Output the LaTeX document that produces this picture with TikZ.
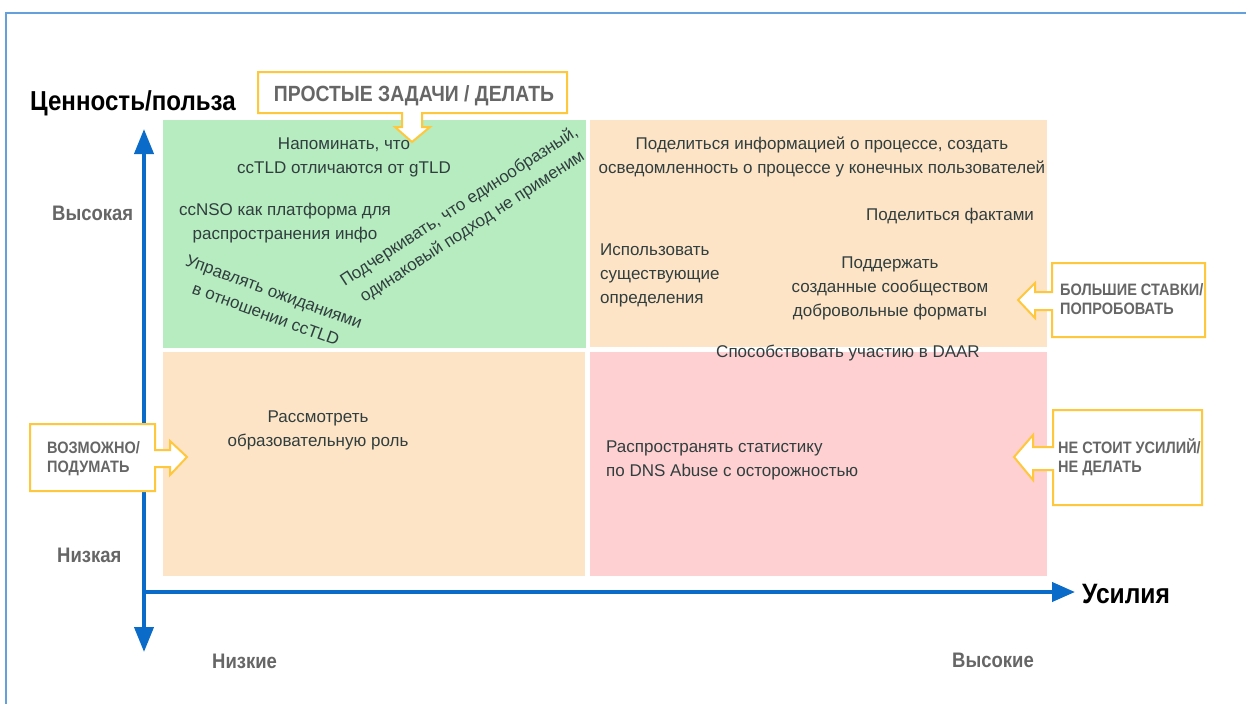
\documentclass[tikz,border=0pt]{standalone}
\usepackage{fontspec}
\setmainfont{Liberation Sans}
\newfontfamily\narrowf[FakeStretch=0.88]{Liberation Sans}
\usetikzlibrary{arrows.meta}
\definecolor{qgreen}{RGB}{183,235,192}
\definecolor{qorange}{RGB}{254,228,198}
\definecolor{qpink}{RGB}{255,208,210}
\definecolor{axisblue}{RGB}{10,108,200}
\definecolor{framblue}{RGB}{100,160,220}
\definecolor{callout}{RGB}{255,200,60}
\definecolor{graylab}{RGB}{102,102,102}
\definecolor{qtext}{RGB}{48,62,62}
\begin{document}
\begin{tikzpicture}[x=1pt,y=-1pt,
  qt/.style={inner sep=0pt, text=qtext, align=center, font=\fontsize{17}{24}\selectfont},
  glab/.style={inner sep=0pt, text=graylab, font=\narrowf\bfseries\fontsize{21}{24}\selectfont},
  ctext/.style={inner sep=0pt, text=graylab, align=left, font=\narrowf\bfseries\fontsize{16.5}{19}\selectfont},
  bigt/.style={inner sep=0pt, text=black, font=\narrowf\bfseries\fontsize{28}{30}\selectfont},
  axisline/.style={draw=axisblue, line width=4pt},
  calloutshape/.style={draw=callout, fill=white, line width=2pt, line join=miter}
]
\useasboundingbox (0,0) rectangle (1246,704);
\fill[white] (0,0) rectangle (1246,704);
% frame
\draw[framblue, line width=2pt] (6,704) -- (6,13) -- (1246,13);

% quadrants
\fill[qgreen] (163,120) rectangle (586,348);
\fill[qorange] (590,120) rectangle (1047,347);
\fill[qorange] (163,352) rectangle (585,576);
\fill[qpink] (590,352) rectangle (1047,576);

% axes
\coordinate (ytop) at (144,129);
\coordinate (ybot) at (144,652);
\coordinate (origin) at (142,592);
\coordinate (xend) at (1075,592);
\draw[axisline, {Triangle[length=25pt,width=19pt]}-{Triangle[length=25pt,width=19pt]}] (ybot) -- (ytop);
\draw[axisline, -{Triangle[length=23pt,width=19pt]}] (origin) -- (xend);

% axis titles
\node[bigt, anchor=base west, font=\narrowf\bfseries\fontsize{27.4}{30}\selectfont] (ytitle) at (30,110) {Ценность/польза};
\node[bigt, anchor=base west] (xtitle) at (1082,603) {Усилия};
\node[glab, anchor=base west] (yhigh) at (52,220) {Высокая};
\node[glab, anchor=base west] (ylow) at (57,562) {Низкая};
\node[glab, anchor=base west] (xlow) at (212,668) {Низкие};
\node[glab, anchor=base west] (xhigh) at (952,667) {Высокие};

% callouts
\draw[calloutshape] (258,72) -- (567,72) -- (567,113) -- (422,113) -- (422,127) -- (430,127)
  -- (412,142) -- (395,127) -- (402,127) -- (402,113) -- (258,113) -- cycle;
\node[ctext, font=\narrowf\bfseries\fontsize{22}{24}\selectfont, anchor=base] (c1) at (414,101) {ПРОСТЫЕ ЗАДАЧИ / ДЕЛАТЬ};

\draw[calloutshape] (1052,263) -- (1205,263) -- (1205,337) -- (1052,337) -- (1052,310) -- (1035,310)
  -- (1035,318) -- (1018,300) -- (1035,283) -- (1035,292) -- (1052,292) -- cycle;
\node[ctext, anchor=base west] (c2) at (1060,314) {БОЛЬШИЕ СТАВКИ/\\ПОПРОБОВАТЬ};

\draw[calloutshape] (1053,410) -- (1202,410) -- (1202,505) -- (1053,505) -- (1053,470) -- (1033,470)
  -- (1033,480) -- (1014,457) -- (1033,435) -- (1033,447) -- (1053,447) -- cycle;
\node[ctext, anchor=base west] (c3) at (1058,472) {НЕ СТОИТ УСИЛИЙ/\\НЕ ДЕЛАТЬ};

\draw[calloutshape] (30,424) -- (155,424) -- (155,450) -- (170,450) -- (170,441) -- (187,457)
  -- (170,475) -- (170,467) -- (155,467) -- (155,491) -- (30,491) -- cycle;
\node[ctext, anchor=base west] (c4) at (47,472) {ВОЗМОЖНО/\\ПОДУМАТЬ};

% quadrant texts
\node[qt] (t1) at (344,157) {Напоминать, что\\ccTLD отличаются от gTLD};
\node[qt] (t2) at (285,223) {ccNSO как платформа для\\распространения инфо};
\node[qt, rotate=-20] (t3) at (270,303) {Управлять ожиданиями\\в отношении ccTLD};
\node[qt, rotate=33] (t4) at (466,217) {Подчеркивать, что единообразный,\\одинаковый подход не применим};

\node[qt] (t5) at (822,157) {Поделиться информацией о процессе, создать\\осведомленность о процессе у конечных пользователей};
\node[qt, anchor=base] (t6) at (950,220) {Поделиться фактами};
\node[qt, align=left, anchor=west] (t7) at (600,275) {Использовать\\существующие\\определения};
\node[qt] (t8) at (890,288) {Поддержать\\созданные сообществом\\добровольные форматы};
\node[qt, anchor=base] (t9) at (848,357) {Способствовать участию в DAAR};

\node[qt] (t10) at (318,430) {Рассмотреть\\образовательную роль};
\node[qt, align=left, anchor=west] (t11) at (606,460) {Распространять статистику\\по DNS Abuse с осторожностью};
\end{tikzpicture}
\end{document}
